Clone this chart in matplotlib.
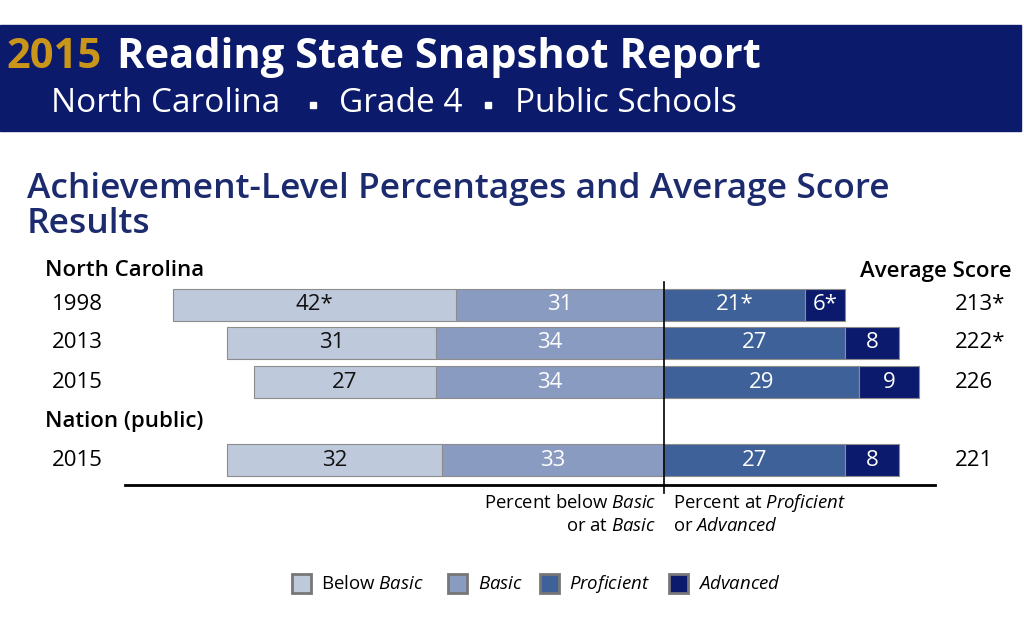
import numpy as np
import matplotlib
matplotlib.use("Agg")
import matplotlib.pyplot as plt
from matplotlib.patches import Rectangle

plt.rcParams['font.family'] = ['Open Sans', 'DejaVu Sans']
plt.rcParams['mathtext.fontset'] = 'custom'
plt.rcParams['mathtext.rm'] = 'Open Sans'
plt.rcParams['mathtext.it'] = 'Open Sans:italic'

rows = ['1998', '2013', '2015', '2015']
below_basic = [42, 31, 27, 32]
basic = [31, 34, 34, 33]
proficient = [21, 27, 29, 27]
advanced = [6, 8, 9, 8]
below_lbl = ['42*', '31', '27', '32']
basic_lbl = ['31', '34', '34', '33']
prof_lbl = ['21*', '27', '29', '27']
adv_lbl = ['6*', '8', '9', '8']
scores = ['213*', '222*', '226', '221']
levels = [r'Below $\mathit{Basic}$', r'$\mathit{Basic}$', r'$\mathit{Proficient}$',
          r'$\mathit{Advanced}$']

c_below = '#bfc9dc'
c_basic = '#8a9bc2'
c_prof = '#3f6199'
c_adv = '#0b1a6c'
colors = [c_below, c_basic, c_prof, c_adv]
navy = '#0b1a6b'
title_col = '#1c2a6e'

W, H = 1024, 629
fig = plt.figure(figsize=(W / 100, H / 100), dpi=100)

# background axes in pixel units for the page furniture
bg = fig.add_axes([0, 0, 1, 1])
bg.set_xlim(0, W)
bg.set_ylim(H, 0)
bg.axis('off')

bg.add_patch(Rectangle((0, 25), 1021, 106, color=navy, zorder=0))
bg.text(6, 58, '2015', color='#c9961a', fontsize=30, fontweight='bold', va='center')
bg.text(117, 58, 'Reading State Snapshot Report', color='white', fontsize=30,
        fontweight='bold', va='center')
for x, s in [(51, 'North Carolina'), (339, 'Grade 4'), (515, 'Public Schools')]:
    bg.text(x, 103, s, color='white', fontsize=24, va='center')
bg.plot([313, 488], [105, 105], linestyle='none', marker='s', markersize=4.3, color='white')

bg.text(27, 189, 'Achievement-Level Percentages and Average Score', color=title_col,
        fontsize=25.5, fontweight='semibold', va='center')
bg.text(27, 224, 'Results', color=title_col, fontsize=25.5, fontweight='semibold', va='center')

bg.text(45, 271, 'North Carolina', fontsize=16, fontweight='semibold', va='center')
bg.text(1012, 271, 'Average Score', fontsize=16, fontweight='semibold', va='center', ha='right')
bg.text(45, 421, 'Nation (public)', fontsize=16, fontweight='semibold', va='center')

# chart axes: x in percent, zero at pixel 664, 6.72 px per point
px0, scale = 664, 6.72
ax = fig.add_axes([0, 0, 1, 1])
ax.set_xlim(-px0 / scale, (W - px0) / scale)
ax.set_ylim(H, 0)
ax.axis('off')
ax.patch.set_alpha(0)

ypos = [305, 343, 382, 460]
bh = 32
ekw = dict(edgecolor='#8c8c8c', linewidth=0.8, height=bh)

bb = np.array(below_basic)
ba = np.array(basic)
pr = np.array(proficient)
ad = np.array(advanced)

ax.barh(ypos, -ba, left=0, color=c_basic, **ekw)
ax.barh(ypos, -bb, left=-ba, color=c_below, **ekw)
ax.barh(ypos, pr, left=0, color=c_prof, **ekw)
ax.barh(ypos, ad, left=pr, color=c_adv, **ekw)

fs = 16
for i, y in enumerate(ypos):
    ax.text(-ba[i] - bb[i] / 2, y, below_lbl[i], ha='center', va='center', fontsize=fs, color='#111111')
    ax.text(-ba[i] / 2, y, basic_lbl[i], ha='center', va='center', fontsize=fs, color='white')
    ax.text(pr[i] / 2, y, prof_lbl[i], ha='center', va='center', fontsize=fs, color='white')
    ax.text(pr[i] + ad[i] / 2, y, adv_lbl[i], ha='center', va='center', fontsize=fs, color='white')
    bg.text(52, y, rows[i], ha='left', va='center', fontsize=fs)
    bg.text(955, y, scores[i], ha='left', va='center', fontsize=fs)

ax.plot([0, 0], [282, 493], color='black', linewidth=1.2)
bg.plot([125, 935], [485, 485], color='black', linewidth=2)

bg.text(656, 503, r'Percent below $\mathit{Basic}$', ha='right', va='center', fontsize=13.3)
bg.text(656, 526, r'or at $\mathit{Basic}$', ha='right', va='center', fontsize=13.3)
bg.text(673, 503, r'Percent at $\mathit{Proficient}$', ha='left', va='center', fontsize=13.3)
bg.text(673, 526, r'or $\mathit{Advanced}$', ha='left', va='center', fontsize=13.3)

# legend, laid out by hand to match the spacing of the original
sq_x = [292, 448, 540, 669]
lab_x = [321, 478, 569, 698]
for c, sx, lx, lab in zip(colors, sq_x, lab_x, levels):
    bg.add_patch(Rectangle((sx, 574), 19, 19, facecolor=c, edgecolor='#777777', linewidth=2))
    bg.text(lx, 584, lab, ha='left', va='center', fontsize=13.4)

fig.savefig('out.png', dpi=100)
